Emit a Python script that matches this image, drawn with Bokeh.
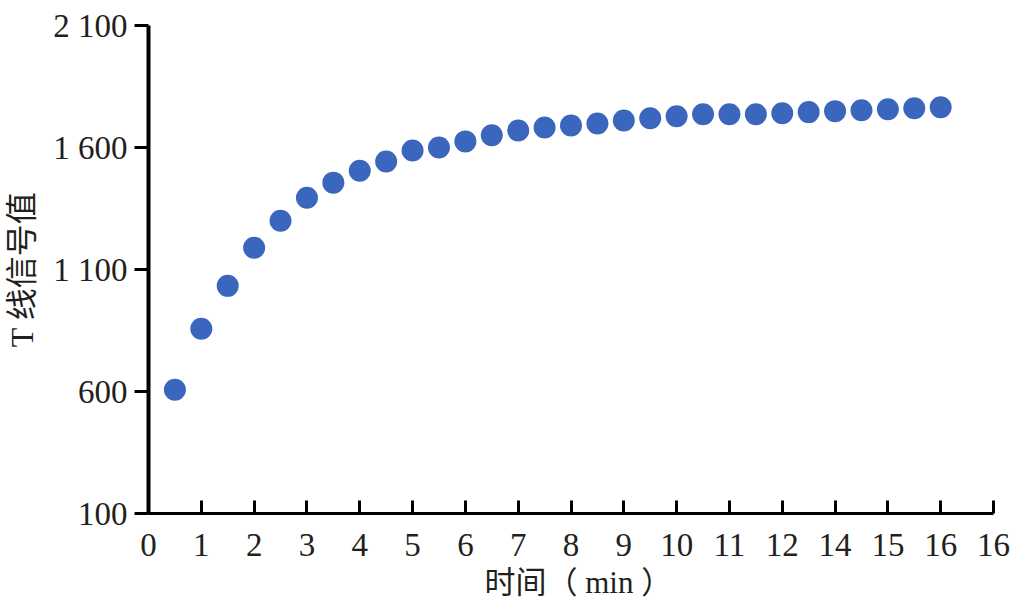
from bokeh.plotting import figure
from bokeh.embed import file_html
from bokeh.resources import INLINE
from bokeh.models import FixedTicker, Range1d, Title

time_min = [0.5, 1, 1.5, 2, 2.5, 3, 3.5, 4, 4.5, 5, 5.5, 6, 6.5, 7, 7.5, 8, 8.5, 9, 9.5, 10,
            10.5, 11, 11.5, 12, 12.5, 13, 13.5, 14, 14.5, 15]
t_signal = [607, 857, 1033, 1189, 1300, 1394, 1456, 1505, 1543, 1588, 1600, 1625, 1650, 1670,
            1682, 1690, 1698, 1711, 1720, 1728, 1736, 1736, 1736, 1740, 1745, 1749, 1753,
            1757, 1761, 1765]
x_tick_pos = list(range(17))
x_tick_labels = ["0", "1", "2", "3", "4", "5", "6", "7", "8", "9", "10", "11", "12", "14", "15", "16", "16"]
y_tick_pos = [100, 600, 1100, 1600, 2100]
y_tick_labels = ["100", "600", "1 100", "1 600", "2 100"]

FONT = "'Liberation Serif', 'Noto Sans CJK SC'"
TEXT = "#231f20"

p = figure(width=1019, height=604, output_backend="svg", toolbar_location=None,
           x_range=Range1d(0, 16), y_range=Range1d(100, 2100),
           min_border_left=148, min_border_right=26, min_border_top=25, min_border_bottom=88)
p.outline_line_color = None
p.grid.visible = False
p.background_fill_color = "white"

p.scatter(time_min, t_signal, size=22, color="#3a66be", line_color=None)

for ax, pos, labels in ((p.xaxis[0], x_tick_pos, x_tick_labels), (p.yaxis[0], y_tick_pos, y_tick_labels)):
    ax.ticker = FixedTicker(ticks=pos)
    ax.major_label_overrides = dict(zip(pos, labels))
    ax.minor_tick_line_color = None
    ax.axis_line_color = "black"
    ax.major_tick_line_color = "black"
    ax.major_tick_line_width = 3
    ax.major_label_text_font = FONT
    ax.major_label_text_font_size = "33px"
    ax.major_label_text_color = TEXT
    ax.axis_label_text_font = FONT
    ax.axis_label_text_font_size = "32px"
    ax.axis_label_text_font_style = "normal"
    ax.axis_label_text_color = TEXT

p.xaxis[0].axis_line_width = 3
p.xaxis[0].major_tick_in = 13
p.xaxis[0].major_tick_out = 0
p.xaxis[0].major_label_standoff = 20

p.yaxis[0].axis_line_width = 4
p.yaxis[0].major_tick_in = 0
p.yaxis[0].major_tick_out = 14
p.yaxis[0].major_label_standoff = 7
p.yaxis[0].major_label_orientation = "horizontal"
p.yaxis[0].axis_label = "T 线信号值"
p.yaxis[0].axis_label_standoff = 10

p.add_layout(Title(text="时间（ min ）", align="left", offset=336, standoff=9,
                   text_font=FONT, text_font_size="31px", text_color=TEXT,
                   text_font_style="normal"), "below")

open("out.html", "w").write(file_html(p, INLINE))
